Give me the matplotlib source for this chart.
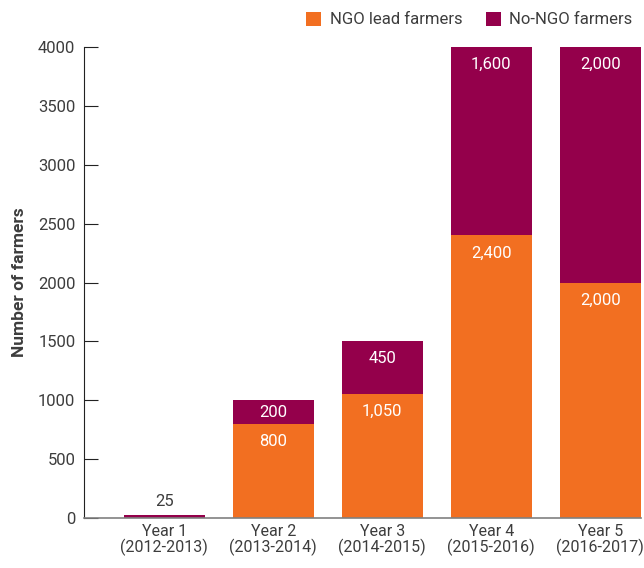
import matplotlib.pyplot as plt

# Data
years = ["Year 1\n(2012-2013)", "Year 2\n(2013-2014)", "Year 3\n(2014-2015)",
         "Year 4\n(2015-2016)", "Year 5\n(2016-2017)"]
ngo_lead = [0, 800, 1050, 2400, 2000]
no_ngo = [25, 200, 450, 1600, 2000]

ORANGE = "#F26F21"
PURPLE = "#94004B"
TEXT = "#3d3d3d"

plt.rcParams['font.family'] = ['Roboto', 'DejaVu Sans']

fig = plt.figure(figsize=(6.44, 5.68), dpi=100)
ax = fig.add_axes([0.130, 0.088, 0.865, 0.829])

x = range(len(years))
w = 0.745
b1 = ax.bar(x, ngo_lead, width=w, color=ORANGE, label="NGO lead farmers")
b2 = ax.bar(x, no_ngo, width=w, bottom=ngo_lead, color=PURPLE, label="No-NGO farmers")

# Value labels near the top of each segment
def seg_label(i, bottom, val, col="white"):
    top = bottom + val
    if val >= 400:
        ax.annotate(f"{val:,}", (i, top), xytext=(0, -12.5),
                    textcoords="offset points", ha="center", va="center",
                    color=col, fontsize=12)
    elif val >= 100:
        ax.text(i, bottom + val / 2, f"{val:,}", ha="center", va="center",
                color=col, fontsize=12)
    else:
        ax.annotate(f"{val:,}", (i, top), xytext=(0, 10),
                    textcoords="offset points", ha="center", va="center",
                    color=TEXT, fontsize=12)

for i in x:
    if ngo_lead[i] > 0:
        seg_label(i, 0, ngo_lead[i])
    seg_label(i, ngo_lead[i], no_ngo[i])

ax.set_xlim(-0.74, 4.372)
ax.set_ylim(0, 4000)
ax.set_yticks(range(0, 4001, 500))
ax.set_xticks(list(x))
ax.set_xticklabels(years, fontsize=11.5, color=TEXT, linespacing=1.0)
ax.tick_params(axis="y", direction="in", length=10, labelsize=12,
               labelcolor=TEXT, color="#222222", pad=6)
ax.tick_params(axis="x", length=0, pad=4)
ax.set_ylabel("Number of farmers", fontsize=12.5, fontweight="bold", color=TEXT, labelpad=8)

for s in ["top", "right"]:
    ax.spines[s].set_visible(False)
ax.spines["left"].set_color("#222222")
ax.spines["bottom"].set_color("#808080")
ax.spines["bottom"].set_linewidth(1.2)

fig.legend(handles=[b1, b2], loc="upper right", bbox_to_anchor=(1.0, 1.0),
           ncol=2, frameon=False, fontsize=12, labelcolor=TEXT,
           handlelength=0.9, handleheight=0.9, handletextpad=0.5,
           columnspacing=1.4, borderaxespad=0.3)

fig.savefig("out.png", dpi=100)
